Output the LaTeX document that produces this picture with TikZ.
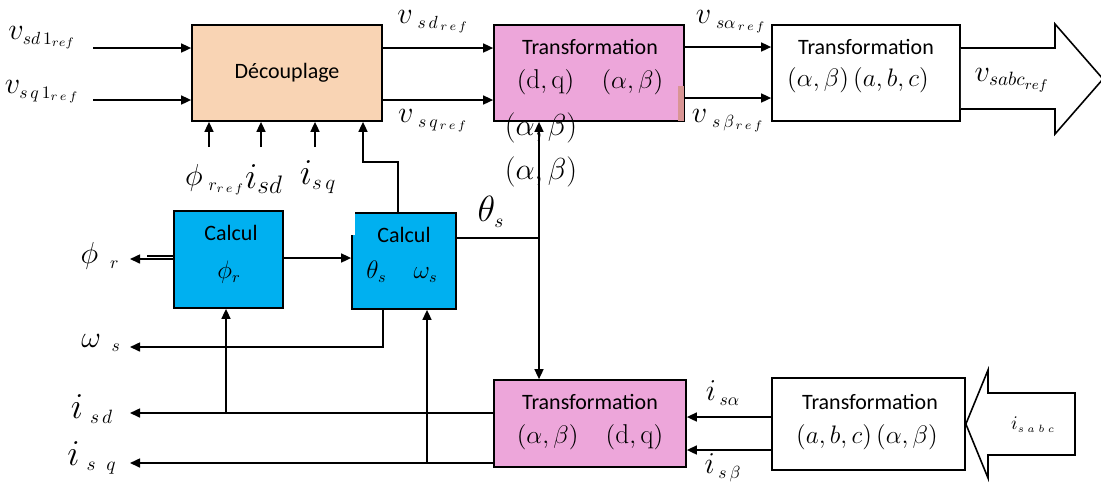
\documentclass[tikz,border=0pt]{standalone}
\usepackage{fontspec}
\setsansfont{Carlito}
\usetikzlibrary{arrows.meta,calc}
\definecolor{peach}{HTML}{F9D4B4}
\definecolor{rose}{HTML}{EDA6DA}
\definecolor{sky}{HTML}{00B0F0}
\definecolor{tab}{HTML}{D99594}
% subscript set at an explicit size: \sx[size]{math}
\newcommand\sx[2][10]{\hbox{\fontsize{#1}{#1}\selectfont$#2$}}
\newcommand\fs[1]{\fontsize{#1}{#1}\selectfont}
\tikzset{
  blk/.style={draw=black,line width=1pt,inner sep=0pt,align=center,font=\sffamily\fs{12.5}},
  arr/.style={line width=0.9pt,-{Triangle[length=2mm,width=1.8mm]}},
  wire/.style={line width=0.9pt},
  lbl/.style={inner sep=0pt,font=\fs{18}},
  inbox/.style={inner sep=0pt,font=\fs{15.5}},
  ttl/.style={inner sep=0pt,font=\sffamily\fs{12.5}},
  bigarrow/.style={draw=black,line width=0.9pt,fill=white,line join=miter}
}
\begin{document}
\begin{tikzpicture}[x=0.02cm,y=-0.02cm]
\useasboundingbox (0,0) rectangle (1101,488);

% blocks
\node[blk,fill=peach,minimum width=3.8cm,minimum height=1.92cm] (dec) at (287,73) {D\'ecouplage};
\node[blk,fill=rose,minimum width=3.8cm,minimum height=1.92cm] (tp) at (589,73) {};
\fill[tab] (678,86) rectangle (684,121);
\node[ttl] at (590,47) {Transformation};
\node[inbox] at (590,82) {$(\mathrm{d,q})\quad(\alpha,\beta)$};
\node[blk,fill=white,minimum width=3.76cm,minimum height=1.92cm] (tw) at (866,73) {};
\node[ttl] at (866,47) {Transformation};
\node[inbox] at (858,80) {$(\alpha,\beta)\,(a,b,c)$};

\node[blk,fill=sky,minimum width=2.18cm,minimum height=1.94cm] (cphi) at (228.5,259.5) {};
\node[ttl] at (231,233) {Calcul};
\node[inbox] at (229,272) {$\phi_{\sx[9]{r}}$};
\node[blk,fill=sky,minimum width=2.08cm,minimum height=1.92cm] (cth) at (404,261) {};
\fill[white] (350.5,211.5) rectangle (355,235);
\node[ttl] at (404,235) {Calcul};
\node[inbox] at (402,272) {$\theta_{\sx[9]{s}}\quad\omega_{\sx[9]{s}}$};

\node[blk,fill=rose,minimum width=3.84cm,minimum height=1.74cm] (bp) at (590,423.5) {};
\node[ttl] at (590,402) {Transformation};
\node[inbox] at (590,437) {$(\alpha,\beta)\quad(\mathrm{d,q})$};
\node[blk,fill=white,minimum width=3.86cm,minimum height=1.84cm] (bw) at (868.5,424) {};
\node[ttl] at (870,402) {Transformation};
\node[inbox] at (867,437) {$(a,b,c)\,(\alpha,\beta)$};

% outlined arrows
\coordinate (s1) at (1055,48);
\coordinate (s2) at (1055,109);
\draw[bigarrow] (tw.east |- s1) -- (s1) -- (1055,24) -- (1103,79) -- (1055,134) -- (s2) -- (tw.east |- s2);
\node[lbl] (vabc) at (1012,80) {$v_{\sx[11]{sabc_{ref}}}$};
\draw[bigarrow] (1075,393) -- (988,393) -- (988,370) -- (bw.east) -- (988,478) -- (988,455) -- (1075,455) -- cycle;
\node[inbox,font=\fs{11}] (iabc) at (1033,425) {$i_{\sx[6]{s\;a\;b\;c}}$};

% inputs of the decoupling block
\coordinate (in1) at (93,48);
\coordinate (in2) at (93,100);
\draw[arr] (in1) -- (in1 -| dec.west);
\draw[arr] (in2) -- (in2 -| dec.west);
\node[lbl] at (42,38) {$v_{\sx{sd\,1_{ref}}}$};
\node[lbl] at (42,92) {$v_{\sx{s\,q\,1_{r\,e\,f}}}$};

\foreach \xx in {209,261,315}{
  \coordinate (u\xx) at (\xx,147);
  \draw[arr] (u\xx) -- (u\xx |- dec.south);
}
\node[lbl,font=\fs{17}] at (215,180) {$\phi_{\;\sx[10]{r_{r\,e\,f}}}$};
\node[lbl,font=\fs{21}] at (264,179) {$i_{\sx[14]{sd}}$};
\node[lbl,font=\fs{21}] at (318,177) {$i_{\sx[13]{s\,q}}$};

% decoupling -> park
\coordinate (a1) at (0,48);
\coordinate (a2) at (0,100);
\draw[arr] (dec.east |- a1) -- (tp.west |- a1);
\draw[arr] (dec.east |- a2) -- (tp.west |- a2);
\node[lbl] at (433,22) {$v_{\;\sx{s\,d_{\,r\,e\,f}}}$};
\node[lbl] at (433,121) {$v_{\;\sx{s\,q_{\,r\,e\,f}}}$};

% park -> inverse clarke
\coordinate (b1) at (0,47);
\coordinate (b2) at (0,98);
\draw[arr] (tp.east |- b1) -- (tw.west |- b1);
\draw[arr] (tp.east |- b2) -- (tw.west |- b2);
\node[lbl] at (731,22) {$v_{\;\sx{s\alpha_{\,r\,e\,f}}}$};
\node[lbl] at (728,121) {$v_{\;\sx{s\,\beta_{\,r\,e\,f}}}$};

% feedback from theta/omega block to decoupling
\coordinate (f1) at (398,162);
\coordinate (f2) at (363,162);
\draw[arr] (f1 |- cth.north) -- (f1) -- (f2) -- (f2 |- dec.south);

% flux and theta calculation
\coordinate (m1) at (0,258);
\coordinate (m2) at (0,256);
\draw[arr] (cphi.east |- m1) -- (cth.west |- m1);
\coordinate (phiout) at (130,259);
\coordinate (phidbl) at (147,256);
\draw[arr] (cphi.west |- phiout) -- (phiout);
\draw[wire] (phidbl) -- (cphi.west |- m2);
\node[lbl] at (100,256) {$\phi_{\;\;\sx{r}}$};

\coordinate (j) at (539,238);
\draw[wire] (cth.east |- j) -- (j);
\draw[arr] (j) -- (j |- tp.south);
\draw[arr] (j) -- (j |- bp.north);
\node[lbl,font=\fs{21}] at (491,212) {$\theta_{\sx[11]{s}}$};
\node[inbox,font=\fs{16}] at (541,128) {$(\alpha,\beta)$};
\node[inbox,font=\fs{16}] at (541,172) {$(\alpha,\beta)$};

% omega output
\coordinate (w1) at (383,347);
\coordinate (wout) at (130,347);
\draw[arr] (w1 |- cth.south) -- (w1) -- (wout);
\node[lbl] at (101,343) {$\omega_{\;\;\sx{s}}$};

% current outputs
\coordinate (d1) at (130,413);
\coordinate (q1) at (130,463);
\coordinate (d2) at (226,413);
\coordinate (q2) at (427,463);
\draw[arr] (bp.west |- d1) -- (d1);
\draw[arr] (bp.west |- q1) -- (q1);
\draw[arr] (d2) -- (d2 |- cphi.south);
\draw[arr] (q2) -- (q2 |- cth.south);
\node[lbl,font=\fs{20}] at (92,409) {$i_{\;\sx[11]{s\,d}}$};
\node[lbl,font=\fs{20}] at (92,458) {$i_{\;\sx[11]{s\;\;q}}$};

% clarke -> park currents
\coordinate (c1) at (0,417);
\coordinate (c2) at (0,450);
\draw[arr] (bw.west |- c1) -- (bp.east |- c1);
\draw[arr] (bw.west |- c2) -- (bp.east |- c2);
\node[lbl] at (723,393) {$i_{\,\sx{s\alpha}}$};
\node[lbl] at (723,468) {$i_{\,\sx{s\,\beta}}$};
\end{tikzpicture}
\end{document}
